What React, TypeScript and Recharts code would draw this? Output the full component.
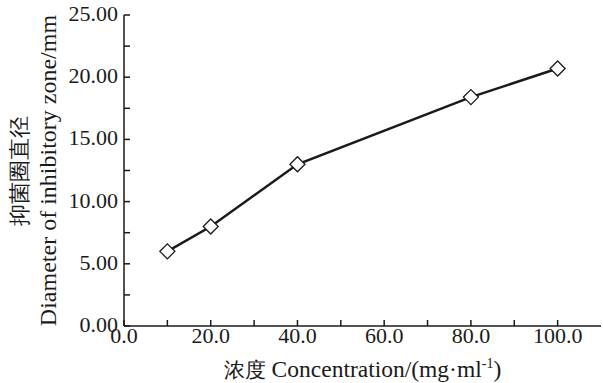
import { LineChart, Line, XAxis, YAxis } from 'recharts'

const concentrations = [10, 20, 40, 80, 100]
const diameters = [6.0, 8.0, 13.0, 18.4, 20.7]
const xTicks = [0, 10, 20, 30, 40, 50, 60, 70, 80, 90, 100]
const yTicks = [0, 2.5, 5, 7.5, 10, 12.5, 15, 17.5, 20, 22.5, 25]

const data = concentrations.map((c, i) => ({ c, d: diameters[i] }))

const FONT = 'Liberation Serif, Times New Roman, Times, serif'
const INK = '#1a1a1a'

function XTick({ x, y, payload }: any) {
  const v = payload.value
  return (
    <g>
      <line x1={x} y1={y} x2={x} y2={y - 6} stroke={INK} strokeWidth={1.5} />
      {v % 20 === 0 && (
        <text x={x} y={y + 17} textAnchor="middle" style={{ fontSize: 22, fontFamily: FONT }} fill={INK}>
          {v.toFixed(1)}
        </text>
      )}
    </g>
  )
}

function YTick({ x, y, payload }: any) {
  const v = payload.value
  return (
    <g>
      <line x1={x} y1={y} x2={x + 6} y2={y} stroke={INK} strokeWidth={1.5} />
      {v % 5 === 0 && (
        <text x={x - 6} y={y + 6} textAnchor="end" style={{ fontSize: 22, fontFamily: FONT }} fill={INK}>
          {v.toFixed(2)}
        </text>
      )}
    </g>
  )
}

function Diamond({ cx, cy }: any) {
  const r = 7.5
  return (
    <path
      d={`M${cx},${cy - r} L${cx + r},${cy} L${cx},${cy + r} L${cx - r},${cy} Z`}
      fill="#fff"
      stroke={INK}
      strokeWidth={1.3}
    />
  )
}

export default function App() {
  return (
    <div style={{ position: 'absolute', left: 0, top: 0, background: '#fff' }}>
      <LineChart width={603} height={383} data={data} margin={{ top: 15, right: 2, bottom: 0, left: 0 }}>
        <XAxis
          dataKey="c"
          type="number"
          domain={[0, 110]}
          ticks={xTicks}
          tick={<XTick />}
          tickLine={false}
          tickSize={0}
          tickMargin={0}
          height={57}
          axisLine={{ stroke: INK, strokeWidth: 1.5 }}
          label={({ viewBox }: any) => (
            <text
              x={viewBox.x + viewBox.width / 2}
              y={377}
              textAnchor="middle"
              style={{ fontSize: 23.5, fontFamily: FONT }}
              fill={INK}
            >
              <tspan style={{ fontSize: 21 }}>浓度</tspan> Concentration/(mg·ml
              <tspan dy={-9} style={{ fontSize: 14 }}>-1</tspan>
              <tspan dy={9}>)</tspan>
            </text>
          )}
        />
        <YAxis
          type="number"
          domain={[0, 25]}
          ticks={yTicks}
          tick={<YTick />}
          tickLine={false}
          tickSize={0}
          tickMargin={0}
          width={124}
          axisLine={{ stroke: INK, strokeWidth: 1.5 }}
          label={({ viewBox }: any) => {
            const cy = viewBox.y + viewBox.height / 2
            return (
              <g>
                <text
                  x={0}
                  y={0}
                  transform={`translate(27, ${cy}) rotate(-90)`}
                  textAnchor="middle"
                  style={{ fontSize: 22, fontFamily: FONT }}
                  fill={INK}
                >
                  抑菌圈直径
                </text>
                <text
                  x={0}
                  y={0}
                  transform={`translate(56, ${cy}) rotate(-90)`}
                  textAnchor="middle"
                  style={{ fontSize: 24, fontFamily: FONT }}
                  fill={INK}
                >
                  Diameter of inhibitory zone/mm
                </text>
              </g>
            )
          }}
        />
        <Line
          dataKey="d"
          stroke={INK}
          strokeWidth={2.5}
          dot={<Diamond />}
          activeDot={false}
          isAnimationActive={false}
        />
      </LineChart>
    </div>
  )
}
